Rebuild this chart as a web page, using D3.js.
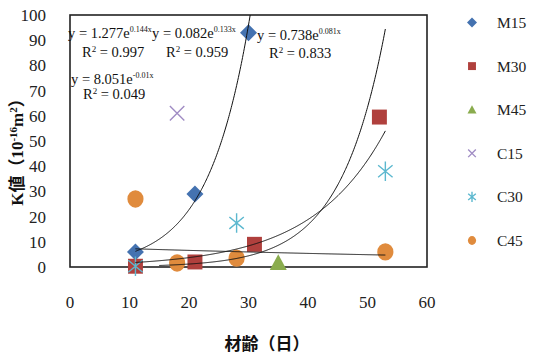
<!DOCTYPE html>
<html><head><meta charset="utf-8">
<script src="https://cdn.jsdelivr.net/npm/d3@7"></script>
<style>body{margin:0;background:#fff}svg{display:block}</style>
</head><body>
<script>
// ---- data ----
const seriesNames = ["M15","M30","M45","C15","C30","C45"];
const seriesColors = ["#4472b0","#b0403d","#8aac4e","#a08cc4","#5cb8cf","#e08b3d"];
const m15Age = [11,21,30],        m15K = [6,29,93];
const m30Age = [11,21,31,52],     m30K = [0.3,2,9,59.5];
const m45Age = [35],              m45K = [1.7];
const c15Age = [18],              c15K = [61];
const c30Age = [11,28,53],        c30K = [0.3,17.5,38];
const c45Age = [11,18,28,53],     c45K = [27,1.6,3.5,6];
const seriesAges = [m15Age,m30Age,m45Age,c15Age,c30Age,c45Age];
const seriesKs   = [m15K,m30K,m45K,c15K,c30K,c45K];
// exponential trendlines y = a e^(b x)
const trendA    = [1.277,0.082,0.738,8.051];
const trendB    = [0.144,0.133,0.081,-0.01];
const trendAText= ["1.277","0.082","0.738","8.051"];
const trendBText= ["0.144x","0.133x","0.081x","-0.01x"];
const trendR2   = ["0.997","0.959","0.833","0.049"];
const trendFrom = [11,15,11,11];
const trendTo   = [30.3,53,53,53];
const xTicks = [0,10,20,30,40,50,60];
const yTicks = [0,10,20,30,40,50,60,70,80,90,100];

const W=533,H=360;
const svg=d3.select("body").append("svg").attr("width",W).attr("height",H);
const x=d3.scaleLinear().domain([0,60]).range([70,427]);
const y=d3.scaleLinear().domain([0,100]).range([267,15]);
const serif="'Liberation Serif','Times New Roman',serif";

// tick labels
svg.append("g").selectAll("text").data(yTicks).join("text")
  .attr("x",46).attr("y",d=>y(d)+6).attr("text-anchor","end")
  .attr("font-family",serif).attr("font-size",17).attr("fill","#222").text(d=>d);
svg.append("g").selectAll("text").data(xTicks).join("text")
  .attr("x",d=>x(d)).attr("y",308).attr("text-anchor","middle")
  .attr("font-family",serif).attr("font-size",17).attr("fill","#222").text(d=>d);

// frame
svg.append("rect").attr("x",x(0)).attr("y",y(100)).attr("width",x(60)-x(0)).attr("height",y(0)-y(100))
  .attr("fill","none").attr("stroke","#222").attr("stroke-width",1.6);

svg.append("clipPath").attr("id","clip").append("rect")
  .attr("x",x(0)).attr("y",y(100)).attr("width",x(60)-x(0)).attr("height",y(0)-y(100));

// markers
function markerPath(i,s){
  switch(i){
    case 0: return `M0,${-s}L${s},0L0,${s}L${-s},0Z`;
    case 1: return `M${-s*0.88},${-s*0.88}H${s*0.88}V${s*0.88}H${-s*0.88}Z`;
    case 2: return `M0,${-s}L${s},${s*0.85}L${-s},${s*0.85}Z`;
    case 3: return `M${-s*0.85},${-s*0.85}L${s*0.85},${s*0.85}M${-s*0.85},${s*0.85}L${s*0.85},${-s*0.85}`;
    case 4: return `M0,${-s*1.15}V${s*1.15}M${-s*0.85},${-s*0.7}L${s*0.85},${s*0.7}M${-s*0.85},${s*0.7}L${s*0.85},${-s*0.7}`;
  }
}
function drawMarker(g,i,cx,cy,s){
  const c=seriesColors[i];
  if(i===5){ g.append("ellipse").attr("cx",cx).attr("cy",cy).attr("rx",s*0.95).attr("ry",s*1.02).attr("fill",c); return; }
  const p=g.append("path").attr("d",markerPath(i,s)).attr("transform",`translate(${cx},${cy})`);
  if(i===3||i===4) p.attr("fill","none").attr("stroke",c).attr("stroke-width",1.4);
  else p.attr("fill",c);
}
const mg=svg.append("g");
seriesNames.forEach((n,i)=>{
  seriesAges[i].forEach((a,j)=>drawMarker(mg,i,x(a),y(seriesKs[i][j]),8.5));
});

// trendlines
const line=d3.line().x(d=>x(d[0])).y(d=>y(d[1]));
const tg=svg.append("g").attr("clip-path","url(#clip)");
trendA.forEach((a,k)=>{
  const pts=d3.range(trendFrom[k],trendTo[k]+0.001,0.1).map(t=>[t,a*Math.exp(trendB[k]*t)]);
  tg.append("path").attr("d",line(pts)).attr("fill","none").attr("stroke","#111").attr("stroke-width",1);
});

// equation labels
const eqPos=[[68,38,82,57],[152,38,166,57],[257,40,269,58],[71,84,83,99]];
trendA.forEach((a,k)=>{
  const [ex,ey,rx,ry]=eqPos[k];
  const t=svg.append("text").attr("x",ex).attr("y",ey).attr("font-family",serif).attr("font-size",14.5).attr("fill","#111");
  t.append("tspan").text("y = "+trendAText[k]+"e");
  t.append("tspan").attr("dy",-6).attr("font-size",8).text(trendBText[k]);
  const r=svg.append("text").attr("x",rx).attr("y",ry).attr("font-family",serif).attr("font-size",14.5).attr("fill","#111");
  r.append("tspan").text("R");
  r.append("tspan").attr("dy",-5).attr("font-size",9).text("2");
  r.append("tspan").attr("dy",5).text(" = "+trendR2[k]);
});

// legend
const lg=svg.append("g");
seriesNames.forEach((n,i)=>{
  const ly=22.5+i*43.6;
  drawMarker(lg,i,472,ly,i===5?4.3:(i===0?5:4.5));
  lg.append("text").attr("x",497).attr("y",ly+5.5).attr("font-family",serif).attr("font-size",15.5).attr("fill","#222").text(n);
});

// axis titles
const bold="'Liberation Serif','Noto Sans CJK JP',serif";
const yl=svg.append("text").attr("transform","translate(23,148) rotate(-90)").attr("text-anchor","middle")
  .attr("font-family",bold).attr("font-weight","bold").attr("font-size",17).attr("fill","#111");
yl.append("tspan").text("K値（10");
yl.append("tspan").attr("dy",-6).attr("font-size",11).text("-16");
yl.append("tspan").attr("dy",6).text("m");
yl.append("tspan").attr("dy",-6).attr("font-size",11).text("2");
yl.append("tspan").attr("dy",6).text("）");
svg.append("text").attr("x",267).attr("y",350).attr("text-anchor","middle")
  .attr("font-family","'Noto Sans CJK JP',sans-serif").attr("font-weight","bold").attr("font-size",17).attr("fill","#111")
  .text("材齢（日）");
</script>
</body></html>
